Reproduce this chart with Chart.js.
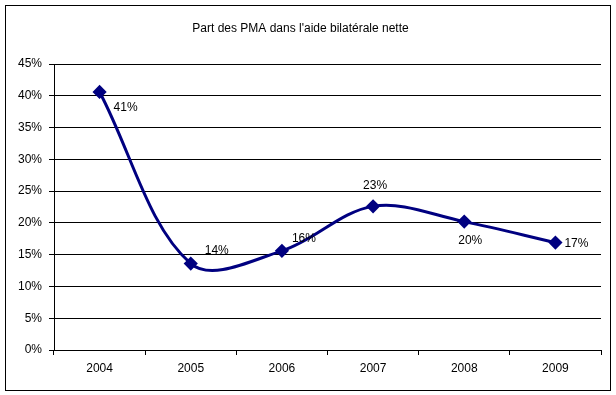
<!DOCTYPE html>
<html>
<head>
<meta charset="utf-8">
<script src="https://cdn.jsdelivr.net/npm/chart.js@4"></script>
<style>
  html, body { margin: 0; padding: 0; background: #fff; }
  #wrap { width: 616px; height: 395px; }
</style>
</head>
<body>
<div id="wrap"><canvas id="chart"></canvas></div>
<script>
// donnees
var annees = ['2004', '2005', '2006', '2007', '2008', '2009'];
var partPMA = [40.6, 13.6, 15.6, 22.6, 20.2, 16.9];
var etiquettes = ['41%', '14%', '16%', '23%', '20%', '17%'];
// decalage des etiquettes par rapport au point (x, y)
var decalages = [[26, 16], [26, -13], [22, -12], [2, -21], [6, 19], [21, 1]];

Chart.defaults.font.family = 'Arial, "Liberation Sans", sans-serif';
Chart.defaults.font.size = 12;
Chart.defaults.color = '#000';

var cadre = {
    id: 'cadre',
    afterDraw: function (chart) {
        var c = chart.ctx;
        c.save();
        c.strokeStyle = '#000';
        c.lineWidth = 1;
        c.strokeRect(5.5, 5.5, 605, 385);
        c.restore();
    }
};

var etiquettesPlugin = {
    id: 'etiquettes',
    afterDatasetsDraw: function (chart) {
        var c = chart.ctx;
        var meta = chart.getDatasetMeta(0);
        c.save();
        c.font = '12px Arial, "Liberation Sans", sans-serif';
        c.fillStyle = '#000';
        c.textAlign = 'center';
        c.textBaseline = 'middle';
        meta.data.forEach(function (pt, i) {
            c.fillText(etiquettes[i], pt.x + decalages[i][0], pt.y + decalages[i][1]);
        });
        c.restore();
    }
};

var ctx = document.getElementById('chart').getContext('2d');
var myChart = new Chart(ctx, {
    type: 'line',
    data: {
        labels: annees,
        datasets: [{
            label: 'Part des PMA',
            data: partPMA,
            borderColor: '#000080',
            backgroundColor: '#000080',
            borderWidth: 3,
            tension: 0.35,
            pointStyle: 'rectRot',
            pointRadius: 5,
            pointHoverRadius: 5
        }]
    },
    options: {
        responsive: true,
        maintainAspectRatio: false,
        animation: false,
        layout: { padding: { left: 0, right: 15, top: 0, bottom: 0 } },
        plugins: {
            legend: { display: false },
            tooltip: { enabled: false },
            title: {
                display: true,
                text: "Part des PMA dans l'aide bilatérale nette",
                font: { size: 12, weight: 'normal' },
                color: '#000',
                padding: { top: 21, bottom: 28.6 }
            }
        },
        scales: {
            x: {
                offset: true,
                grid: { display: true, drawOnChartArea: false, offset: true, color: '#000', tickLength: 5 },
                border: { color: '#000' },
                ticks: { padding: 6, maxRotation: 0 },
                afterFit: function (s) { s.height = 45; }
            },
            y: {
                min: 0,
                max: 45,
                ticks: {
                    stepSize: 5,
                    padding: 7,
                    callback: function (v) { return v + '%'; }
                },
                grid: { color: '#000', tickLength: 5 },
                border: { color: '#000' },
                afterFit: function (s) { s.width = 54; }
            }
        }
    },
    plugins: [cadre, etiquettesPlugin]
});
</script>
</body>
</html>
